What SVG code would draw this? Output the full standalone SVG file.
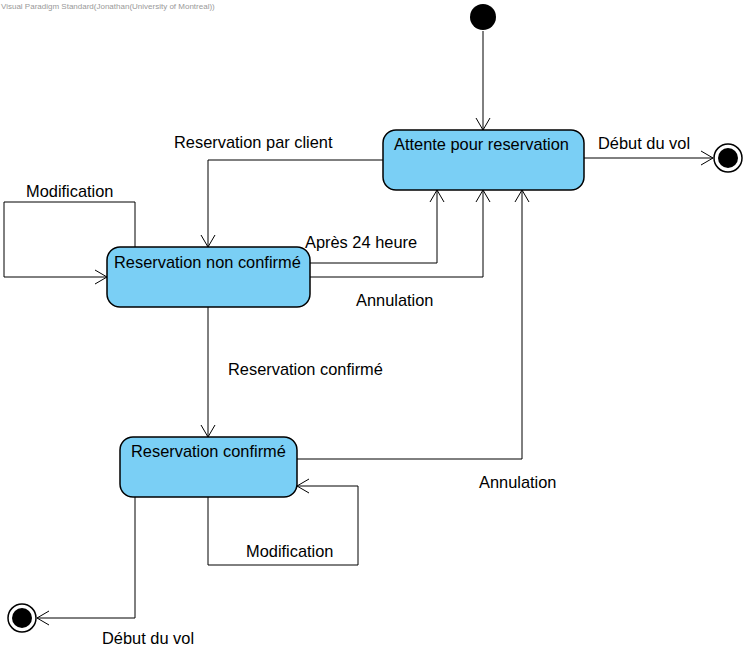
<svg xmlns="http://www.w3.org/2000/svg" width="749" height="654" viewBox="0 0 749 654">
<style>
.st{fill:#7acff5;stroke:#000;stroke-width:1.5}
.t{font-family:"Liberation Sans",Arial,sans-serif;font-size:16.4px;fill:#000}
.c{fill:none;stroke:#000;stroke-width:1}
.wm{font-family:"Liberation Sans",Arial,sans-serif;font-size:8px;fill:#999}
</style>
<defs>
<marker id="a" markerWidth="14" markerHeight="16" refX="13" refY="8" orient="auto" markerUnits="userSpaceOnUse">
<path d="M1,1 L13,8 L1,15" fill="none" stroke="#000" stroke-width="1"/>
</marker>
</defs>
<rect width="749" height="654" fill="#fff"/>
<text class="wm" x="1" y="9">Visual Paradigm Standard(Jonathan(University of Montreal))</text>
<g id="connectors">
<path class="c" d="M483,31 V130" marker-end="url(#a)"/>
<path class="c" d="M584,158 H713" marker-end="url(#a)"/>
<path class="c" d="M383,160 H208 V247" marker-end="url(#a)"/>
<path class="c" d="M135,247 V202 H4 V277 H107" marker-end="url(#a)"/>
<path class="c" d="M310,263 H437 V190" marker-end="url(#a)"/>
<path class="c" d="M310,277 H483 V190" marker-end="url(#a)"/>
<path class="c" d="M208,307 V437" marker-end="url(#a)"/>
<path class="c" d="M297,459 H522 V190" marker-end="url(#a)"/>
<path class="c" d="M208,497 V565 H358 V486 H297" marker-end="url(#a)"/>
<path class="c" d="M135,497 V618 H37" marker-end="url(#a)"/>
<text class="t" x="598" y="149">Début du vol</text>
<text class="t" x="174" y="148">Reservation par client</text>
<text class="t" x="26" y="197">Modification</text>
<text class="t" x="305" y="248">Après 24 heure</text>
<text class="t" x="356" y="306">Annulation</text>
<text class="t" x="228" y="375">Reservation confirmé</text>
<text class="t" x="479" y="488">Annulation</text>
<text class="t" x="246" y="557">Modification</text>
<text class="t" x="102" y="644">Début du vol</text>
</g>
<g id="initial"><circle cx="483" cy="17" r="13" fill="#000"/></g>
<g id="final1"><circle cx="728" cy="158" r="14" fill="#fff" stroke="#000" stroke-width="1.5"/><circle cx="728" cy="158" r="10" fill="#000"/></g>
<g id="final2"><circle cx="22" cy="618" r="14" fill="#fff" stroke="#000" stroke-width="1.5"/><circle cx="22" cy="618" r="10" fill="#000"/></g>
<g id="attente"><rect class="st" x="383" y="130" width="201" height="60" rx="13"/><text class="t" x="394" y="150">Attente pour reservation</text></g>
<g id="nonconfirme"><rect class="st" x="107" y="247" width="203" height="60" rx="13"/><text class="t" x="114" y="268">Reservation non confirmé</text></g>
<g id="confirme"><rect class="st" x="120" y="437" width="177" height="60" rx="13"/><text class="t" x="131" y="457">Reservation confirmé</text></g>
</svg>
